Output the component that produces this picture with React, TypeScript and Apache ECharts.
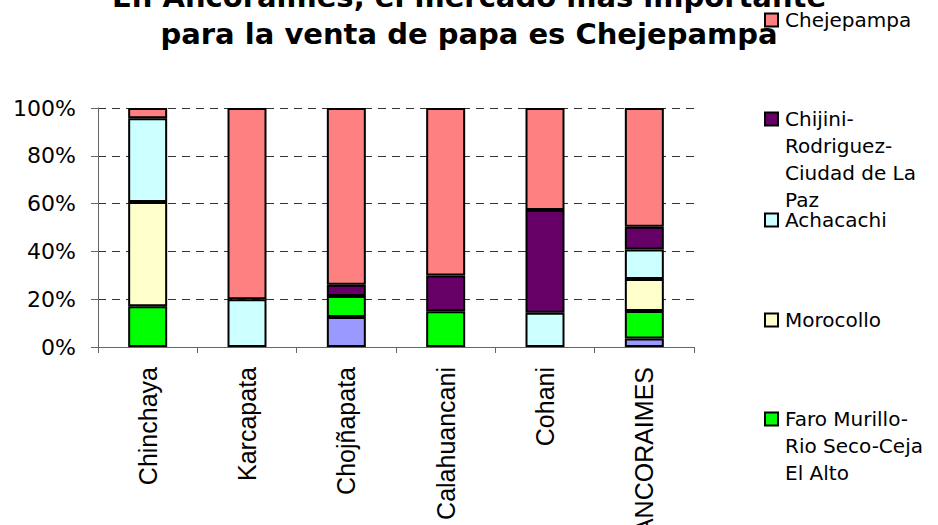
import React, { useEffect, useRef } from "react";
import * as echarts from "echarts";

const titleLines = ["En Ancoraimes, el mercado más importante", "para la venta de papa es Chejepampa"];

const categories = ["Chinchaya", "Karcapata", "Chojñapata", "Calahuancani", "Cohani", "ANCORAIMES"];

// stacked from bottom to top
const seriesNames = [
  "Otros",
  "Faro Murillo-Rio Seco-Ceja El Alto",
  "Morocollo",
  "Achacachi",
  "Chijini-Rodriguez-Ciudad de La Paz",
  "Chejepampa",
];
const seriesColors = ["#9999FF", "#00FF00", "#FFFFCC", "#CCFFFF", "#660066", "#FF8080"];

const otros = [0, 0, 12.6, 0, 0, 3.6];
const faro = [17.1, 0, 8.7, 15.0, 0, 11.5];
const morocollo = [43.6, 0, 0, 0, 0, 13.3];
const achacachi = [35.0, 20.0, 0, 0, 14.3, 12.4];
const chijini = [0, 0, 4.7, 14.9, 43.0, 9.5];
const chejepampa = [4.3, 80.0, 74.0, 70.1, 42.7, 49.7];
const seriesValues = [otros, faro, morocollo, achacachi, chijini, chejepampa];

const yTicks = { min: 0, max: 100, interval: 20 };

// legend entries (top to bottom), with their wrapped labels
const legendLabels = [
  "Chejepampa",
  "Chijini-\nRodriguez-\nCiudad de La\nPaz",
  "Achacachi",
  "Morocollo",
  "Faro Murillo-\nRio Seco-Ceja\nEl Alto",
];
const legendColors = ["#FF8080", "#660066", "#CCFFFF", "#FFFFCC", "#00FF00"];
const legendRowY = [20, 119, 220, 320, 419];

export default function App() {
  const ref = useRef<HTMLDivElement>(null);

  useEffect(() => {
    if (!ref.current) return;
    const chart = echarts.init(ref.current, undefined, { renderer: "svg" });

    const legendGraphics: any[] = [];
    legendLabels.forEach((label, i) => {
      const cy = legendRowY[i];
      legendGraphics.push({
        type: "rect",
        shape: { x: 765, y: cy - 6.5, width: 13, height: 13 },
        style: { fill: legendColors[i], stroke: "#000", lineWidth: 2 },
      });
      legendGraphics.push({
        type: "text",
        style: {
          text: label,
          x: 785,
          y: cy - 13.5,
          fill: "#000",
          font: "20px 'DejaVu Sans'",
          lineHeight: 27,
          verticalAlign: "top",
          align: "left",
        },
      });
    });

    chart.setOption({
      animation: false,
      backgroundColor: "#fff",
      title: {
        text: titleLines.join("\n"),
        left: "center",
        top: -27,
        textStyle: {
          fontFamily: "DejaVu Sans",
          fontWeight: "bold",
          fontSize: 29,
          lineHeight: 37,
          color: "#000",
        },
      },
      grid: {
        left: 98,
        right: 244,
        top: 108,
        bottom: 178,
        containLabel: false,
        outerBoundsMode: "none",
      },
      xAxis: {
        type: "category",
        data: categories,
        axisLine: { show: true, lineStyle: { color: "#666", width: 1 } },
        axisTick: { show: true, length: 6, lineStyle: { color: "#666" } },
        axisLabel: {
          rotate: 90,
          margin: 20,
          fontFamily: "Liberation Sans",
          fontSize: 25,
          color: "#000",
        },
        splitLine: { show: false },
      },
      yAxis: {
        type: "value",
        min: yTicks.min,
        max: yTicks.max,
        interval: yTicks.interval,
        axisLine: { show: true, lineStyle: { color: "#666", width: 1 } },
        axisTick: { show: true, length: 7, lineStyle: { color: "#666" } },
        axisLabel: {
          formatter: "{value}%",
          margin: 22,
          fontFamily: "DejaVu Sans",
          fontSize: 22,
          color: "#000",
        },
        splitLine: { show: true, lineStyle: { color: "#333", type: [8, 6], width: 1 } },
      },
      series: seriesNames.map((name, i) => ({
        name,
        type: "bar",
        stack: "total",
        barWidth: 39,
        data: seriesValues[i].map((v) => (v === 0 ? null : v)),
        itemStyle: { color: seriesColors[i], borderColor: "#000", borderWidth: 2 },
      })),
      graphic: legendGraphics,
    });

    return () => chart.dispose();
  }, []);

  return (
    <div
      ref={ref}
      style={{ position: "fixed", left: 0, top: 0, width: 938, height: 525 }}
    />
  );
}
